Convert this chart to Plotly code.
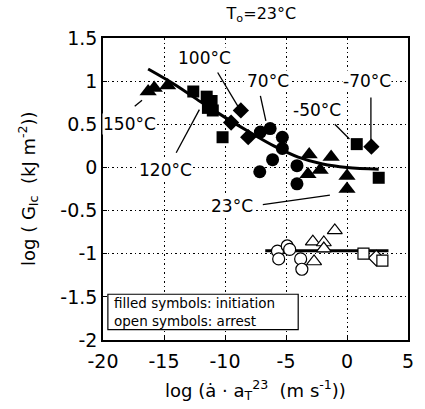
import plotly.graph_objects as go

# ---- initiation (filled symbols), grouped by test temperature ----
tri_x = [-16.3, -15.8, -14.7, -3.1, -1.3, -2.2, -3.2, 0.0, 0.0]
tri_y = [0.88, 0.92, 0.95, 0.15, 0.12, -0.03, -0.08, -0.10, -0.25]

sq_x = [-12.6, -11.5, -11.1, -11.4, -11.0, -10.2, 0.8, 2.6]
sq_y = [0.88, 0.82, 0.77, 0.69, 0.66, 0.35, 0.27, -0.12]

dia_x = [-8.7, -9.5, -8.1, 2.0]
dia_y = [0.66, 0.52, 0.35, 0.24]

circ_x = [-7.1, -6.3, -5.3, -5.3, -6.1, -7.15, -4.1, -4.1]
circ_y = [0.41, 0.45, 0.35, 0.22, 0.09, -0.05, 0.02, -0.19]

# ---- arrest (open symbols) ----
ocirc_x = [-5.7, -5.6, -4.9, -4.7, -3.8, -3.7]
ocirc_y = [-0.97, -1.06, -0.91, -0.95, -1.06, -1.18]

otri_x = [-2.8, -1.9, -1.0, -2.7, -1.9]
otri_y = [-0.86, -0.87, -0.73, -1.09, -0.94]

osq_x = [1.35, 2.9]
osq_y = [-1.0, -1.08]

odia_x = [2.4]
odia_y = [-1.05]

# ---- master curve for initiation ----
fit_x = [-16.3, -14.0, -12.0, -10.0, -8.0, -6.0, -4.0, -2.0, 0.0, 2.6]
fit_y = [1.14, 0.95, 0.76, 0.58, 0.41, 0.25, 0.12, 0.04, 0.0, -0.02]

# ---- mean arrest level ----
arr_x = [-6.7, 3.4]
arr_y = [-0.965, -0.965]

# ---- temperature labels and their leader lines ----
lab_text = ["100°C", "70°C", "-70°C", "-50°C", "150°C", "120°C", "23°C"]
lab_x = [-11.7, -6.5, 1.6, -2.5, -17.8, -14.9, -9.4]
lab_y = [1.27, 1.0, 1.0, 0.67, 0.5, -0.03, -0.45]
lead_x0 = [-10.6, -7.1, 1.96, -1.0, -17.4, -14.0, -6.9]
lead_y0 = [1.10, 0.83, 0.81, 0.50, 0.71, 0.17, -0.43]
lead_x1 = [-8.95, -6.65, 1.96, 0.2, -16.8, -12.1, -1.4]
lead_y1 = [0.71, 0.54, 0.29, 0.33, 0.78, 0.67, -0.32]

x_ticks = [-20, -15, -10, -5, 0, 5]
y_ticks = [-2, -1.5, -1, -0.5, 0, 0.5, 1, 1.5]

FONT = "DejaVu Sans, Verdana, sans-serif"

fig = go.Figure()

fig.add_trace(go.Scatter(x=fit_x, y=fit_y, mode="lines", line=dict(color="black", width=3, shape="spline")))
fig.add_trace(go.Scatter(x=arr_x, y=arr_y, mode="lines", line=dict(color="black", width=3)))

def filled(x, y, sym, size):
    fig.add_trace(go.Scatter(x=x, y=y, mode="markers",
                             marker=dict(symbol=sym, size=size, color="black",
                                         line=dict(color="black", width=0))))

def hollow(x, y, sym, size):
    fig.add_trace(go.Scatter(x=x, y=y, mode="markers",
                             marker=dict(symbol=sym, size=size, color="white",
                                         line=dict(color="black", width=1.2))))

hollow(ocirc_x, ocirc_y, "circle", 12)
hollow(otri_x, otri_y, "triangle-up", 13)
hollow(odia_x, odia_y, "diamond", 12)
hollow(osq_x, osq_y, "square", 11)

filled(tri_x, tri_y, "triangle-up", 15)
filled(sq_x, sq_y, "square", 12)
filled(dia_x, dia_y, "diamond", 12.5)
filled(circ_x, circ_y, "circle", 13)

for x0, y0, x1, y1 in zip(lead_x0, lead_y0, lead_x1, lead_y1):
    fig.add_shape(type="line", x0=x0, y0=y0, x1=x1, y1=y1, xref="x", yref="y",
                  line=dict(color="black", width=1.3))

for t, x, y in zip(lab_text, lab_x, lab_y):
    fig.add_annotation(x=x, y=y, text=t, showarrow=False, xref="x", yref="y",
                       font=dict(family=FONT, size=17, color="black"),
                       bgcolor="white", borderpad=0)

# note box explaining the symbol fill
fig.add_shape(type="rect", xref="x", yref="y", x0=-19.6, x1=-4.0, y0=-1.88, y1=-1.47,
              line=dict(color="black", width=1.2), fillcolor="white")
fig.add_annotation(x=-19.3, y=-1.575, xref="x", yref="y", xanchor="left", showarrow=False,
                   text="filled symbols: initiation",
                   font=dict(family=FONT, size=13.5, color="black"))
fig.add_annotation(x=-19.3, y=-1.775, xref="x", yref="y", xanchor="left", showarrow=False,
                   text="open symbols: arrest",
                   font=dict(family=FONT, size=13.5, color="black"))

# axis titles placed as paper annotations
fig.add_annotation(x=0.5, y=0, xref="paper", yref="paper", yanchor="middle", yshift=-50,
                   showarrow=False,
                   text="log (ȧ · a<sub>T</sub><sup>23</sup>  (m s<sup>-1</sup>))",
                   font=dict(family=FONT, size=18, color="black"))
fig.add_annotation(x=0, y=0.5, xref="paper", yref="paper", xanchor="center", xshift=-75,
                   showarrow=False, textangle=-90,
                   text="log ( G<sub>Ic</sub>  (kJ m<sup>-2</sup>))",
                   font=dict(family=FONT, size=18, color="black"))

fig.update_layout(
    width=425, height=409,
    margin=dict(l=103, r=11, t=38, b=69),
    paper_bgcolor="white", plot_bgcolor="white",
    showlegend=False,
    font=dict(family=FONT, color="black"),
    title=dict(text="T<sub>o</sub>=23°C", x=0.615, xanchor="center", y=0.982, yanchor="top",
               font=dict(family=FONT, size=16, color="black")),
)

GRID = dict(showgrid=True, gridcolor="black", griddash="1.5px,3px", gridwidth=1,
            showline=True, linecolor="black", linewidth=1.5, mirror=True,
            ticks="inside", ticklen=4, tickcolor="black", zeroline=False)

fig.update_xaxes(
    range=[-20, 5], tickvals=x_ticks, ticktext=[str(v) for v in x_ticks],
    tickfont=dict(family=FONT, size=19, color="black"), ticklabelstandoff=3,
    **GRID,
)
fig.update_yaxes(
    range=[-2, 1.5], tickvals=y_ticks, ticktext=["-2", "-1.5", "-1", "-0.5", "0", "0.5", "1", "1.5"],
    tickfont=dict(family=FONT, size=19, color="black"),
    **GRID,
)

fig.write_html("out.html")
